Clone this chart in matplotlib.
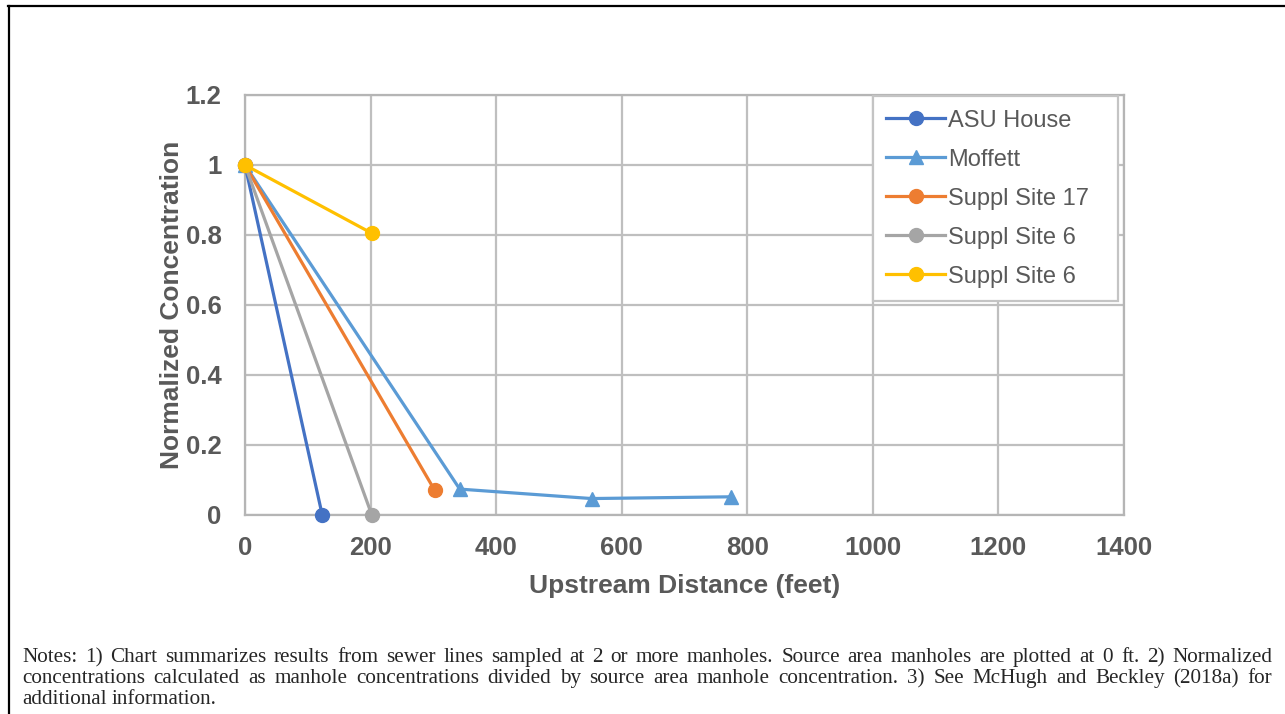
import matplotlib
matplotlib.use("Agg")
import matplotlib.pyplot as plt
from matplotlib.lines import Line2D

# series (upstream distance in feet, normalized conc.)
asu_x = [0, 123]
asu_y = [1.0, 0.0]
moffett_x = [0, 342, 552, 774]
moffett_y = [1.0, 0.074, 0.047, 0.052]
site17_x = [0, 302]
site17_y = [1.0, 0.071]
site6a_x = [0, 202]
site6a_y = [1.0, 0.0]
site6b_x = [0, 202]
site6b_y = [1.0, 0.805]

labels = ["ASU House", "Moffett", "Suppl Site 17", "Suppl Site 6", "Suppl Site 6"]
colors = ["#4472C4", "#5B9BD5", "#ED7D31", "#A5A5A5", "#FFC000"]
markers = ["o", "^", "o", "o", "o"]

x_ticks = [0, 200, 400, 600, 800, 1000, 1200, 1400]
y_ticks = [0, 0.2, 0.4, 0.6, 0.8, 1.0, 1.2]
y_ticklabels = ["0", "0.2", "0.4", "0.6", "0.8", "1", "1.2"]

notes = [
    "Notes: 1) Chart summarizes results from sewer lines sampled at 2 or more manholes.  Source area manholes are plotted at 0 ft.  2) Normalized",
    "concentrations calculated as manhole concentrations divided by source area manhole concentration. 3) See McHugh and Beckley (2018a) for",
    "additional information.",
]

W, H = 1285, 714
fig = plt.figure(figsize=(W / 100, H / 100), dpi=100)
ax = fig.add_axes([245 / W, 1 - 515 / H, (1124 - 245) / W, (515 - 95) / H])

grey = "#595959"
series = [(asu_x, asu_y), (moffett_x, moffett_y), (site17_x, site17_y),
          (site6a_x, site6a_y), (site6b_x, site6b_y)]
for (xs, ys), lab, c, m in zip(series, labels, colors, markers):
    ax.plot(xs, ys, color=c, marker=m, markersize=10, linewidth=2.3,
            label=lab, clip_on=False, zorder=3)

ax.set_xlim(0, 1400)
ax.set_ylim(0, 1.2)
ax.set_xticks(x_ticks)
ax.set_yticks(y_ticks)
ax.set_yticklabels(y_ticklabels)
ax.grid(True, color="#BFBFBF", linewidth=1.6)
ax.set_axisbelow(True)
for s in ax.spines.values():
    s.set_color("#B5B5B5")
    s.set_linewidth(1.6)
ax.tick_params(length=0, labelsize=18.5, labelcolor=grey)
ax.tick_params(axis="x", pad=15)
ax.tick_params(axis="y", pad=17)
for t in ax.get_xticklabels() + ax.get_yticklabels():
    t.set_fontfamily("Liberation Sans")
    t.set_fontweight("bold")

ax.set_xlabel("Upstream Distance (feet)", fontsize=19, fontweight="bold",
              color=grey, family="Liberation Sans", labelpad=10)
ax.set_ylabel("Normalized Concentration", fontsize=19, fontweight="bold",
              color=grey, family="Liberation Sans", labelpad=1)

leg = ax.legend(loc="upper left", bbox_to_anchor=(0.714, 0.998, 0.279, 0.0),
                mode="expand", fancybox=False, framealpha=1, edgecolor="#C4C4C4",
                prop={"family": "Liberation Sans", "size": 17},
                handlelength=2.5, handletextpad=0.1, labelspacing=0.72,
                borderpad=0.58, borderaxespad=0)
leg.get_frame().set_linewidth(1.6)
for t in leg.get_texts():
    t.set_color(grey)

# black border along top and left like the source page
fig.add_artist(Line2D([8 / W, 1], [1 - 6 / H, 1 - 6 / H], color="black", linewidth=1.6))
fig.add_artist(Line2D([9 / W, 9 / W], [0, 1 - 6 / H], color="black", linewidth=1.6))

# justified notes underneath
r = fig.canvas.get_renderer()
x0, x1 = 22, 1272
fs = 15.2
for i, line in enumerate(notes):
    ypix = 662 + 21 * i
    words = line.split()
    txts = [fig.text(0, 1 - ypix / H, w, family="Liberation Serif", fontsize=fs,
                     color="#262626", va="baseline", ha="left") for w in words]
    widths = [t.get_window_extent(r).width for t in txts]
    if i < len(notes) - 1:
        gap = (x1 - x0 - sum(widths)) / (len(words) - 1)
    else:
        gap = fs * 100 / 72 * 0.25
    x = x0
    for t, w in zip(txts, widths):
        t.set_x(x / W)
        x += w + gap

fig.savefig("out.png", dpi=100)
